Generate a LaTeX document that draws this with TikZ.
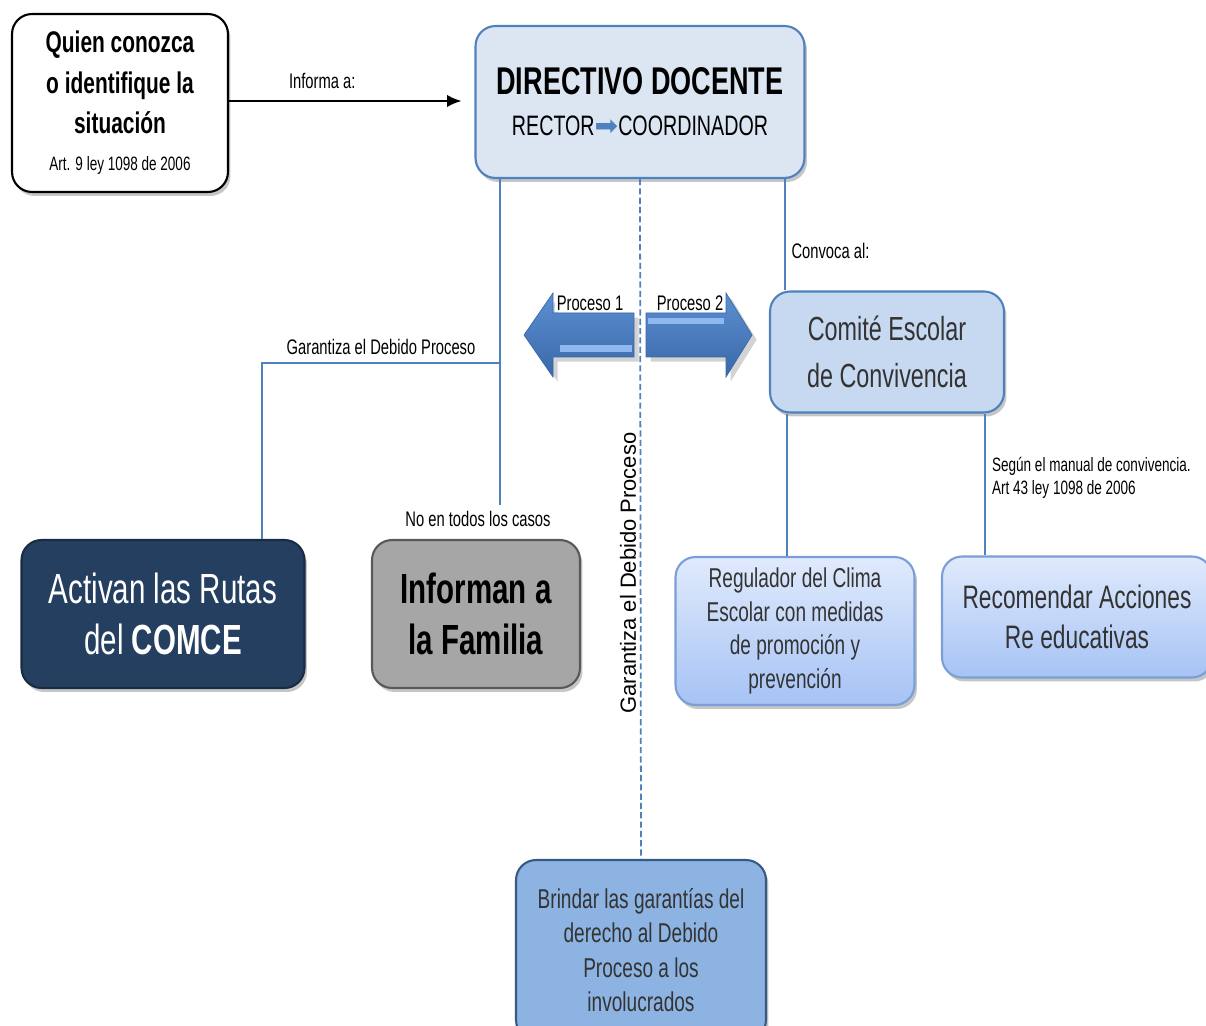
\documentclass[tikz,border=0pt]{standalone}
\usepackage{fontspec}
\setmainfont[FakeStretch=0.7]{Liberation Sans}
\newfontfamily\widesans{Liberation Sans}
\newfontfamily\symfont{DejaVu Sans}
\usetikzlibrary{shadows,arrows.meta}
\definecolor{lineblue}{HTML}{4F81BD}
\definecolor{dirfill}{HTML}{DCE6F2}
\definecolor{comfill}{HTML}{C6D9F1}
\definecolor{regtop}{HTML}{E0EAFC}
\definecolor{regbot}{HTML}{A6C3F5}
\definecolor{regborder}{HTML}{7A9FD6}
\definecolor{actfill}{HTML}{243F60}
\definecolor{infill}{HTML}{A6A6A6}
\definecolor{brinfill}{HTML}{8DB3E2}
\definecolor{arrowtop}{HTML}{5C8FD2}
\definecolor{arrowbot}{HTML}{3A68A8}
\definecolor{arrowlight}{HTML}{8FB8EE}
\definecolor{boxtext}{HTML}{333333}
\begin{document}
\begin{tikzpicture}[x=0.02cm,y=-0.02cm]
\tikzstyle{box}=[draw, rounded corners=0.4cm, align=center, inner sep=2pt, line width=1.2pt, drop shadow={opacity=0.45, shadow xshift=0.05cm, shadow yshift=-0.08cm}]
\tikzstyle{link}=[draw=lineblue, line width=1.4pt]
\tikzstyle{lbl}=[font=\fontsize{12}{14}\selectfont, inner sep=1pt]
\tikzstyle{bigarrow}=[top color=arrowtop, bottom color=arrowbot, draw=arrowbot, line width=0.4pt, drop shadow={opacity=0.35}]
\useasboundingbox (0,0) rectangle (1206,1026);

% boxes
\node[box, draw=black, fill=white, minimum width=4.32cm, minimum height=3.56cm, font=\fontsize{17}{23}\selectfont\bfseries] (quien) at (120,103) {Quien conozca\\ o identifique la\\ situación\\[-2pt] {\fontsize{11}{13}\selectfont\mdseries Art. 9 ley 1098 de 2006}};
\node[box, draw=lineblue, fill=dirfill, minimum width=6.58cm, minimum height=3.04cm, font=\fontsize{22}{23.5}\selectfont] (dir) at (640,102) {\textbf{DIRECTIVO DOCENTE}\\ {\fontsize{16}{23.5}\selectfont RECTOR{\symfont\textcolor{lineblue}{➡}}COORDINADOR}};
\node[box, draw=lineblue, fill=comfill, text=boxtext, minimum width=4.68cm, minimum height=2.42cm, font=\fontsize{19}{27}\selectfont] (comite) at (887,352) {Comité Escolar\\ de Convivencia};
\node[box, draw=regborder, top color=regtop, bottom color=regbot, text=boxtext, minimum width=4.78cm, minimum height=2.96cm, font=\fontsize{15.5}{19.3}\selectfont] (regul) at (795,631) {Regulador del Clima\\ Escolar con medidas\\ de promoción y\\ prevención};
\node[box, draw=regborder, top color=regtop, bottom color=regbot, text=boxtext, minimum width=5.4cm, minimum height=2.42cm, font=\fontsize{18.5}{22.7}\selectfont] (recom) at (1077,617) {Recomendar Acciones\\ Re educativas};
\node[box, draw=actfill!70!black, fill=actfill, text=white, minimum width=5.66cm, minimum height=2.96cm, font=\fontsize{24}{29.5}\selectfont] (act) at (163,614) {Activan las Rutas\\ del \textbf{COMCE}};
\node[box, draw=black!65, fill=infill, text=black, minimum width=4.16cm, minimum height=2.96cm, font=\fontsize{24}{29.5}\selectfont\bfseries] (inf) at (476,614) {Informan a\\ la Familia};
\node[box, draw=lineblue!70!black, fill=brinfill, text=boxtext, minimum width=5cm, minimum height=3.6cm, font=\fontsize{15.5}{19.5}\selectfont] (brind) at (641,950) {Brindar las garantías del\\ derecho al Debido\\ Proceso a los\\ involucrados};

% connectors
\coordinate (informa) at (462,101);
\coordinate (split) at (500,363);
\coordinate (rutas) at (262,363);
\coordinate (nofam) at (500,505);
\coordinate (xconv) at (785,0);
\coordinate (xreg) at (787,0);
\coordinate (xrec) at (985,0);

\draw[-{Latex[length=3mm,width=2.5mm]}, line width=1.6pt] (quien.east |- informa) -- (informa) node[lbl, pos=0.4, above=5pt] {Informa a:};
\draw[link] (dir.south -| split) -- (nofam);
\draw[link] (split) -- (rutas) node[lbl, midway, above=3pt] {Garantiza el Debido Proceso} -- (rutas |- act.north);
\draw[link, line width=1pt, dash pattern=on 3.5pt off 1.8pt] (dir.south) -- (brind.north);
\draw[link] (dir.south -| xconv) -- (comite.north -| xconv) node[lbl, pos=0.65, right=2pt] {Convoca al:};
\draw[link] (comite.south -| xreg) -- (regul.north -| xreg);
\draw[link] (comite.south -| xrec) -- (recom.north -| xrec);

% labels
\node[lbl] (nota) at (478,519) {No en todos los casos};
\node[lbl, anchor=west, align=left, font=\fontsize{11}{13.5}\selectfont] (manual) at (990,478) {Según el manual de convivencia.\\ Art 43 ley 1098 de 2006};
\node[rotate=90, inner sep=1pt, font=\widesans\fontsize{12.5}{14}\selectfont] (garant) at (628,573) {Garantiza el Debido Proceso};

% process arrows
\path[bigarrow] (524,335) -- (553,293) -- (553,313) -- (634,313) -- (634,357) -- (553,357) -- (553,377) -- cycle;
\fill[arrowlight] (560,345) rectangle (632,352);
\path[bigarrow] (752,335) -- (726,293) -- (726,313) -- (646,313) -- (646,357) -- (726,357) -- (726,377) -- cycle;
\fill[arrowlight] (648,318) rectangle (724,324);
\node[lbl, fill=white] (proc1) at (590,303) {Proceso 1};
\node[lbl, fill=white] (proc2) at (690,303) {Proceso 2};
\end{tikzpicture}
\end{document}
